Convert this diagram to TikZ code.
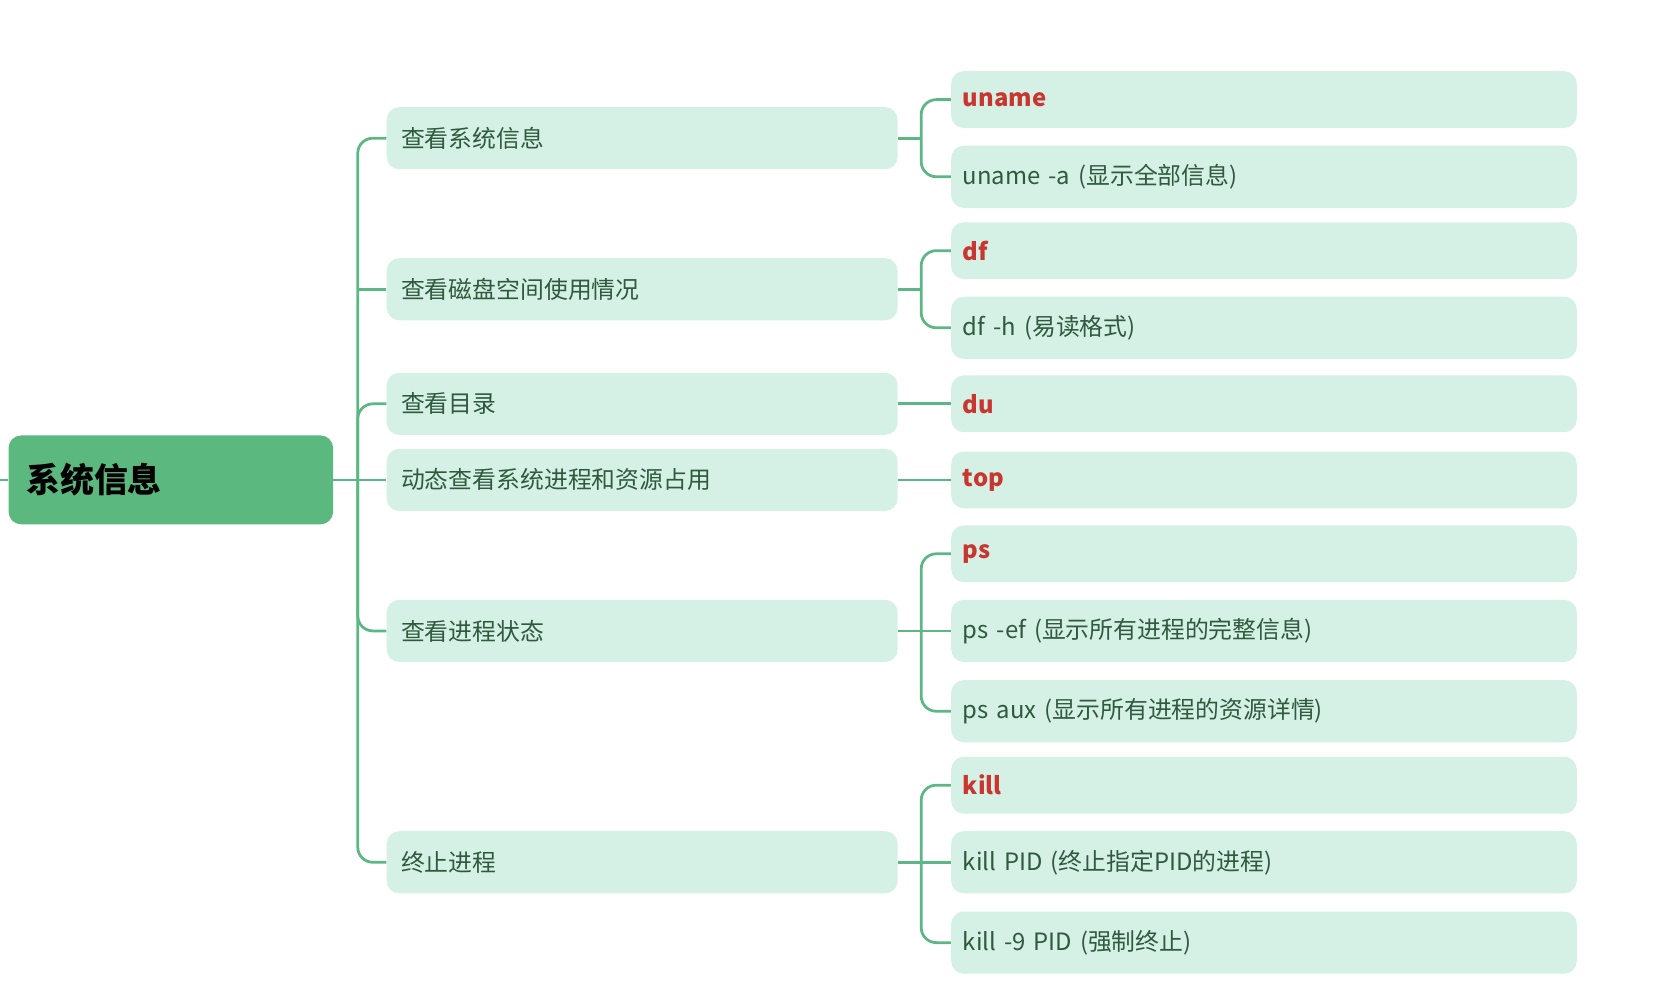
\documentclass[tikz,border=0pt]{standalone}
\usepackage{fontspec}
\setmainfont{Noto Sans CJK SC}
\begin{document}
\begin{tikzpicture}[x=0.03cm,y=-0.03cm,
 ln/.style={draw=lc,line width=2.2pt,rounded corners=12},
 mid/.style={fill=bf,rounded corners=10,minimum height=58*0.03cm,minimum width=477*0.03cm,text width=450*0.03cm,align=left,font=\fontsize{19}{22}\selectfont,text=tc,inner sep=0},
 leaf/.style={mid,minimum width=584*0.03cm,text width=562*0.03cm},
 red/.style={leaf,minimum height=53*0.03cm,text=rc,font=\fontsize{19}{22}\selectfont\bfseries}]
\definecolor{lc}{HTML}{5DB784}\definecolor{bf}{HTML}{D5F0E4}
\definecolor{tc}{HTML}{2F5A3E}\definecolor{rc}{HTML}{C9362F}
\definecolor{rf}{HTML}{5BB97F}
\useasboundingbox (0,0) rectangle (1560,939);
\node[fill=rf,rounded corners=10,minimum width=303*0.03cm,minimum height=83*0.03cm,text width=270*0.03cm,align=left,font=\fontsize{27}{30}\selectfont\bfseries,inner sep=0] (root) at (159.5,448) {系统信息};
\foreach \n/\y/\t in {m1/129/查看系统信息,m2/270/查看磁盘空间使用情况,m3/377/查看目录/文件占用空间,m4/448/动态查看系统进程和资源占用,m5/589/查看进程状态,m6/805/终止进程}
 \node[mid] (\n) at (599.5,\y) {\t};
\foreach \n/\y/\t in {a1/93/uname,b1/234/df,c1/377/du,d1/448/top,e1/517/ps,f1/733/kill}
 \node[red] (\n) at (1180,\y) {\t};
\foreach \n/\y/\t in {a2/165/uname -a (显示全部信息),b2/306/df -h (易读格式),e2/589/ps -ef (显示所有进程的完整信息),e3/664/ps aux (显示所有进程的资源详情),f2/805/kill PID (终止指定PID的进程),f3/880/kill -9 PID (强制终止)}
 \node[leaf] (\n) at (1180,\y) {\t};
\coordinate (t) at (334,448);
\draw[ln] (0,448) -- (root.west);
\draw[ln] (root.east) -- (m4.west);
\draw[ln] (m1.west) -| (t) |- (m6.west);
\draw[ln] (m2.west) -- ++(-27,0);
\draw[ln] (m3.west) -| (t);
\draw[ln] (m5.west) -| (t);
\coordinate (v1) at (860,129);\coordinate (v2) at (860,270);
\coordinate (v5) at (860,589);\coordinate (v6) at (860,805);
\draw[ln] (a1.west) -| (v1) |- (a2.west); \draw[ln] (m1.east) -- (v1);
\draw[ln] (b1.west) -| (v2) |- (b2.west); \draw[ln] (m2.east) -- (v2);
\draw[ln] (m3.east) -- (c1.west);
\draw[ln] (m4.east) -- (d1.west);
\draw[ln] (e1.west) -| (v5) |- (e3.west); \draw[ln] (m5.east) -- (e2.west);
\draw[ln] (f1.west) -| (v6) |- (f3.west); \draw[ln] (m6.east) -- (f2.west);
\end{tikzpicture}
\end{document}
